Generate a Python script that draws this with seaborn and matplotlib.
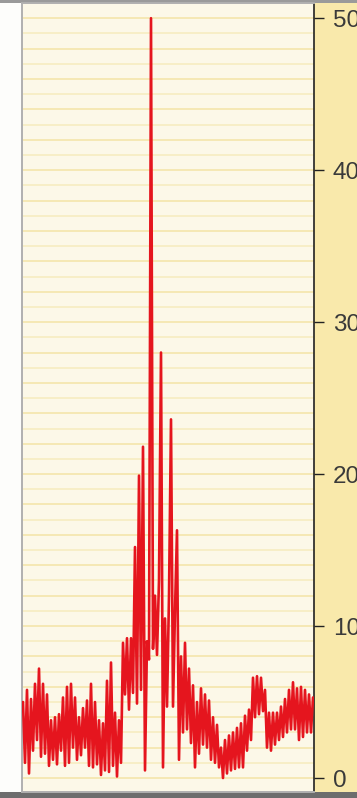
import numpy as np
import pandas as pd
import matplotlib
matplotlib.use("Agg")
import matplotlib.pyplot as plt
import seaborn as sns
from matplotlib.patches import Rectangle

# ---- data ----
signal_values = [
    5.0, 1.0, 5.8, 0.3, 5.2, 1.8, 6.2, 2.5, 7.2, 1.4,
    6.2, 1.6, 5.5, 0.8, 3.8, 1.2, 4.0, 0.9, 4.2, 1.8,
    5.3, 0.8, 6.0, 1.0, 6.2, 2.0, 5.3, 1.2, 4.0, 1.5,
    4.6, 2.0, 5.1, 0.8, 6.2, 0.7, 5.0, 0.9, 3.8, 0.2,
    3.6, 0.5, 6.4, 0.4, 7.6, 0.8, 4.3, 0.1, 3.8, 1.0,
    8.9, 5.5, 9.2, 4.5, 9.2, 5.6, 15.2, 4.9, 19.9, 5.8,
    21.8, 0.5, 9.0, 7.8, 50.0, 8.5, 12.0, 8.1, 13.0, 28.0,
    0.7, 10.5, 4.7, 12.0, 23.6, 4.7, 11.0, 16.3, 1.2, 8.0,
    3.0, 8.9, 3.2, 7.2, 2.3, 6.1, 0.7, 5.0, 1.6, 5.9,
    2.2, 5.5, 2.0, 5.1, 1.2, 4.0, 1.0, 3.5, 0.7, 2.0,
    0.0, 2.5, 0.3, 2.8, 0.5, 3.0, 0.6, 3.3, 0.7, 3.6,
    0.7, 4.1, 1.8, 4.5, 2.5, 6.6, 4.0, 6.7, 4.2, 6.6,
    4.4, 5.8, 2.0, 4.3, 1.8, 4.3, 2.2, 4.3, 2.5, 4.7,
    2.7, 5.2, 3.0, 5.8, 3.2, 6.3, 3.2, 5.9, 2.5, 6.0,
    2.7, 5.8, 3.0, 5.5, 3.0, 5.3,
]
sample_index = list(range(len(signal_values)))
y_ticks = [0, 10, 20, 30, 40, 50]
y_tick_labels = ["0", "10", "20", "30", "40", "50"]
grid_levels = list(range(0, 51))

df = pd.DataFrame({"sample": sample_index, "value": signal_values})

# ---- figure ----
sns.set_style("white")
plt.rcParams["font.family"] = ["Liberation Sans", "DejaVu Sans"]
W, H = 357, 798
fig = plt.figure(figsize=(W / 100, H / 100), dpi=100)
fig.patch.set_facecolor("#f9e9ab")

ax_l, ax_r = 22 / W, 314 / W
ax_b, ax_t = 6 / H, 795 / H
ax = fig.add_axes([ax_l, ax_b, ax_r - ax_l, ax_t - ax_b])

# white margin at the left and grey strips at the scan edges
fig.patches.append(Rectangle((0, 0), ax_l, 1, transform=fig.transFigure,
                             facecolor="#fdfdfb", edgecolor="none", zorder=-5))
fig.patches.append(Rectangle((0, 0), 1, ax_b, transform=fig.transFigure,
                             facecolor="#6d6d6d", edgecolor="none", zorder=-4))
fig.patches.append(Rectangle((0, ax_t), 1, 1 - ax_t, transform=fig.transFigure,
                             facecolor="#9a9a9a", edgecolor="none", zorder=-4))

ax.set_facecolor("#fcf8e8")
for i, lv in enumerate(grid_levels):
    ax.axhline(lv, color="#f4e4a6" if lv % 2 == 0 else "#f6ebbe",
               lw=1.1, zorder=0)

sns.lineplot(data=df, x="sample", y="value", ax=ax, color="#e5151e",
             linewidth=1.9, zorder=3)

ax.set_xlim(-0.5, len(signal_values) - 0.5)
ax.set_ylim(-0.92, 51.0)
ax.set_xlabel("")
ax.set_ylabel("")
ax.set_xticks([])

ax.yaxis.tick_right()
ax.set_yticks(y_ticks)
ax.set_yticklabels(y_tick_labels)
ax.tick_params(axis="y", which="major", direction="out", length=7.5, width=1.0,
               color="#222222", labelsize=17.5, labelcolor="#3a3a3a", pad=6,
               right=True, left=False)

for side in ["left", "top", "bottom"]:
    ax.spines[side].set_color("#b0b0b0")
    ax.spines[side].set_linewidth(1.4)
ax.spines["right"].set_color("#222222")
ax.spines["right"].set_linewidth(1.2)

fig.savefig("out.png", dpi=100, facecolor=fig.get_facecolor())
